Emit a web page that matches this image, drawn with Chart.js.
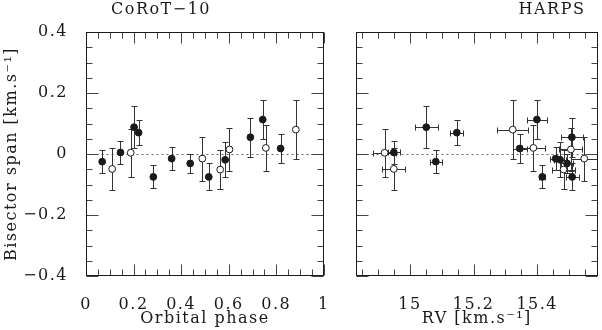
<!DOCTYPE html>
<html lang="en">
<head>
<meta charset="UTF-8">
<script src="https://cdn.jsdelivr.net/npm/chart.js@4"></script>
<title>CoRoT-10 bisector span</title>
<style>
  body { margin: 0; background: #fff; }
  #wrap { position: relative; width: 602px; height: 330px; }
  #left_box { position: absolute; left: 0; top: 0; width: 340px; height: 330px; }
  #right_box { position: absolute; left: 340px; top: 0; width: 262px; height: 330px; }
</style>
</head>
<body>
<div id="wrap">
  <div id="left_box"><canvas id="phase_canvas" width="340" height="330"></canvas></div>
  <div id="right_box"><canvas id="rv_canvas" width="262" height="330"></canvas></div>
</div>
<script>
// one entry per spectrum, same order in every array
const phase = [0.068, 0.110, 0.145, 0.188, 0.202, 0.221, 0.283, 0.360, 0.438, 0.489,
               0.516, 0.564, 0.585, 0.603, 0.691, 0.743, 0.756, 0.818, 0.882];
const rv = [15.081, 14.949, 14.949, 14.920, 15.051, 15.147, 15.416, 15.458, 15.494, 15.548,
            15.510, 15.483, 15.472, 15.506, 15.509, 15.399, 15.388, 15.345, 15.323];
const rvErr = [0.018, 0.036, 0.018, 0.036, 0.036, 0.020, 0.010, 0.018, 0.020, 0.041,
               0.020, 0.037, 0.020, 0.036, 0.034, 0.032, 0.037, 0.022, 0.049];
const bis = [-0.025, -0.049, 0.005, 0.004, 0.088, 0.070, -0.075, -0.015, -0.031, -0.015,
             -0.075, -0.051, -0.019, 0.015, 0.055, 0.113, 0.020, 0.018, 0.080];
const bisErr = [0.037, 0.070, 0.038, 0.078, 0.069, 0.042, 0.038, 0.039, 0.031, 0.072,
                0.044, 0.064, 0.057, 0.071, 0.064, 0.064, 0.076, 0.046, 0.098];
const isOpen = [0, 1, 0, 1, 0, 0, 0, 0, 0, 1, 0, 1, 0, 1, 0, 0, 1, 0, 1];

// labelled ticks
const phaseTicks = [0, 0.2, 0.4, 0.6, 0.8, 1];
const rvTicks = [15, 15.2, 15.4];
const bisTicks = [-0.4, -0.2, 0, 0.2, 0.4];

const FONT = 'DejaVu Serif';
const INK = '#1a1a1a';
const MINOR = 0.05, MAJOR = 0.2;

function nearly(a, b) { return Math.abs(a - b) < 1e-6; }

function fmt(v) {
    return String(+v.toFixed(2)).replace('-', '\u2212');
}

// ticks every 0.05 inside the axis range
function minorTicks(scale) {
    const out = [];
    let v = Math.ceil(scale.min / MINOR - 1e-6) * MINOR;
    for (; v <= scale.max + 1e-6; v += MINOR) out.push({ value: +v.toFixed(4) });
    scale.ticks = out;
}

function labelFrom(list) {
    return function (value) {
        return list.some(t => nearly(t, value)) ? fmt(value) : '';
    };
}

// frame, inward tick marks, dotted zero line, error bars
const framePlugin = {
    id: 'frame',
    beforeDraw(chart) {
        chart.ctx.letterSpacing = '1.5px';
    },
    beforeDatasetsDraw(chart) {
        const ctx = chart.ctx;
        const a = chart.chartArea;
        const xs = chart.scales.x, ys = chart.scales.y;
        const L = Math.round(a.left) + 0.5, R = Math.round(a.right) - 0.5;
        const T = Math.round(a.top) + 0.5, B = Math.round(a.bottom) - 0.5;

        ctx.save();
        ctx.letterSpacing = '0px';

        // zero line
        const y0 = Math.round(ys.getPixelForValue(0)) + 0.5;
        ctx.strokeStyle = '#666';
        ctx.lineWidth = 1;
        ctx.setLineDash([2, 3]);
        ctx.beginPath();
        ctx.moveTo(L, y0);
        ctx.lineTo(R, y0);
        ctx.stroke();
        ctx.setLineDash([]);

        // tick marks
        ctx.strokeStyle = '#444';
        ctx.beginPath();
        xs.ticks.forEach(t => {
            const len = nearly(t.value / MAJOR, Math.round(t.value / MAJOR)) ? 11 : 6;
            const px = Math.round(xs.getPixelForValue(t.value)) + 0.5;
            ctx.moveTo(px, B); ctx.lineTo(px, B - len);
            ctx.moveTo(px, T); ctx.lineTo(px, T + len);
        });
        ys.ticks.forEach(t => {
            const len = nearly(t.value / MAJOR, Math.round(t.value / MAJOR)) ? 12 : 6;
            const py = Math.round(ys.getPixelForValue(t.value)) + 0.5;
            ctx.moveTo(L, py); ctx.lineTo(L + len, py);
            ctx.moveTo(R, py); ctx.lineTo(R - len, py);
        });
        ctx.stroke();

        // error bars
        const xv = chart.options.xValues, xe = chart.options.xErrors;
        ctx.strokeStyle = '#333';
        ctx.beginPath();
        const cap = 3;
        for (let i = 0; i < bis.length; i++) {
            const px = Math.round(xs.getPixelForValue(xv[i])) + 0.5;
            const py = ys.getPixelForValue(bis[i]);
            const yt = Math.round(ys.getPixelForValue(bis[i] + bisErr[i])) + 0.5;
            const yb = Math.round(ys.getPixelForValue(bis[i] - bisErr[i])) + 0.5;
            ctx.moveTo(px, yt); ctx.lineTo(px, yb);
            ctx.moveTo(px - cap, yt); ctx.lineTo(px + cap, yt);
            ctx.moveTo(px - cap, yb); ctx.lineTo(px + cap, yb);
            if (xe) {
                const pyr = Math.round(py) + 0.5;
                const xl = Math.round(xs.getPixelForValue(xv[i] - xe[i])) + 0.5;
                const xr = Math.round(xs.getPixelForValue(xv[i] + xe[i])) + 0.5;
                ctx.moveTo(xl, pyr); ctx.lineTo(xr, pyr);
                ctx.moveTo(xl, pyr - cap); ctx.lineTo(xl, pyr + cap);
                ctx.moveTo(xr, pyr - cap); ctx.lineTo(xr, pyr + cap);
            }
        }
        ctx.stroke();
        ctx.restore();
    },
    afterDraw(chart) {
        const ctx = chart.ctx;
        const a = chart.chartArea;
        ctx.save();
        ctx.letterSpacing = '0px';
        ctx.strokeStyle = INK;
        ctx.lineWidth = 1;
        ctx.strokeRect(Math.round(a.left) + 0.5, Math.round(a.top) + 0.5,
            Math.round(a.right) - Math.round(a.left) - 1, Math.round(a.bottom) - Math.round(a.top) - 1);
        // panel title
        ctx.letterSpacing = '1.5px';
        ctx.fillStyle = INK;
        ctx.font = '16px "' + FONT + '"';
        ctx.textAlign = 'center';
        ctx.textBaseline = 'alphabetic';
        ctx.fillText(chart.options.panelTitle, chart.options.panelTitleX, 14);
        ctx.restore();
    }
};

function makeChart(canvasId, xValues, xErrors, opts) {
    const points = xValues.map((x, i) => ({ x: x, y: bis[i] }));
    return new Chart(document.getElementById(canvasId), {
        type: 'scatter',
        data: {
            datasets: [{
                data: points,
                pointRadius: 3.4,
                pointHoverRadius: 3.4,
                pointBorderWidth: 1,
                pointBorderColor: INK,
                pointBackgroundColor: isOpen.map(o => o ? '#fff' : INK)
            }]
        },
        options: {
            responsive: false,
            animation: false,
            devicePixelRatio: 1,
            xValues: xValues,
            xErrors: xErrors,
            panelTitle: opts.title,
            panelTitleX: opts.titleX,
            layout: { padding: { top: 32, right: opts.padRight, left: 0, bottom: 0 } },
            plugins: { legend: { display: false }, tooltip: { enabled: false } },
            scales: {
                x: {
                    type: 'linear',
                    min: opts.xMin,
                    max: opts.xMax,
                    afterBuildTicks: minorTicks,
                    afterFit: s => { s.height = 54; },
                    grid: { display: false },
                    border: { display: false },
                    ticks: {
                        autoSkip: false,
                        maxRotation: 0,
                        padding: 11,
                        color: INK,
                        font: { family: FONT, size: 16 },
                        callback: labelFrom(opts.xLabels)
                    },
                    title: {
                        display: true,
                        text: opts.xTitle,
                        color: INK,
                        font: { family: FONT, size: 16 },
                        padding: { top: 0, bottom: 2 }
                    }
                },
                y: {
                    type: 'linear',
                    min: -0.4,
                    max: 0.4,
                    afterBuildTicks: minorTicks,
                    afterFit: s => { s.width = opts.yWidth; },
                    grid: { display: false },
                    border: { display: false },
                    ticks: {
                        display: opts.yLabels,
                        autoSkip: false,
                        padding: 10,
                        color: INK,
                        font: { family: FONT, size: 16 },
                        callback: labelFrom(bisTicks)
                    },
                    title: {
                        display: opts.yLabels,
                        text: 'Bisector span [km.s\u207B\u00B9]',
                        color: INK,
                        font: { family: FONT, size: 16 },
                        padding: { top: 2, bottom: 0 }
                    }
                }
            }
        },
        plugins: [framePlugin]
    });
}

makeChart('phase_canvas', phase, null, {
    title: 'CoRoT\u221210', titleX: 161,
    xMin: 0, xMax: 1, xLabels: phaseTicks, xTitle: 'Orbital phase',
    yWidth: 86, padRight: 8, yLabels: true
});

makeChart('rv_canvas', rv, rvErr, {
    title: 'HARPS', titleX: 212,
    xMin: 14.83, xMax: 15.59, xLabels: rvTicks, xTitle: 'RV [km.s\u207B\u00B9]',
    yWidth: 16, padRight: 1, yLabels: false
});
</script>
</body>
</html>
